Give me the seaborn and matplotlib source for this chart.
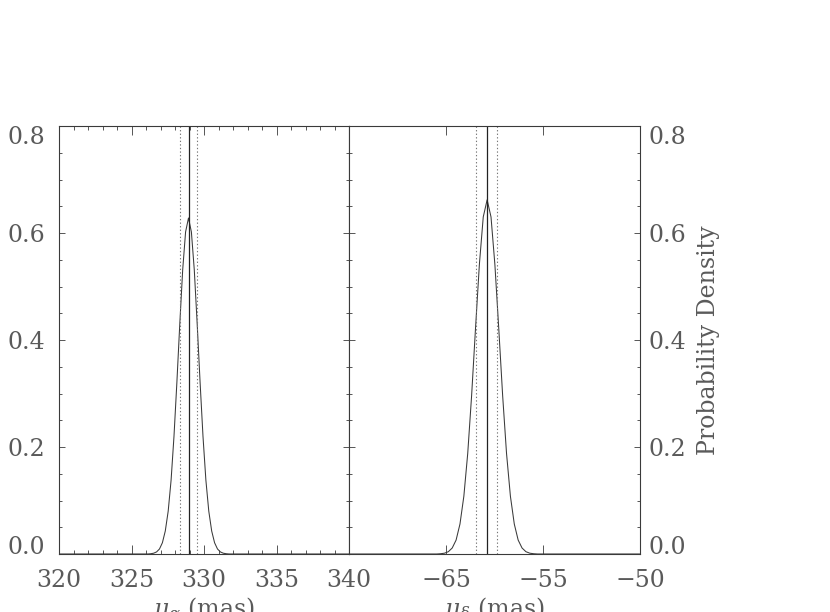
import numpy as np
import pandas as pd
import seaborn as sns
import matplotlib.pyplot as plt
from matplotlib.ticker import MultipleLocator

# values
mua_x = [320.0, 326.13, 326.33, 326.53, 326.73, 326.93, 327.13, 327.33, 327.53,
         327.73, 327.93, 328.13, 328.33, 328.53, 328.73, 328.93, 329.13, 329.33,
         329.53, 329.73, 329.93, 330.13, 330.33, 330.53, 330.73, 330.93, 331.13,
         331.33, 331.53, 331.73, 340.0]
mua_pdf = [0.0, 0.0, 0.0005, 0.0015, 0.0039, 0.0094, 0.021, 0.043, 0.080,
           0.138, 0.220, 0.321, 0.430, 0.531, 0.602, 0.628, 0.602, 0.531,
           0.430, 0.321, 0.220, 0.138, 0.080, 0.043, 0.021, 0.0094, 0.0039,
           0.0015, 0.0005, 0.0, 0.0]
mua_best = 328.95
mua_lo, mua_hi = 328.37, 329.54

mud_x = [-65.0, -60.48, -60.28, -60.08, -59.88, -59.68, -59.48, -59.28, -59.08,
         -58.88, -58.68, -58.48, -58.28, -58.08, -57.88, -57.68, -57.48, -57.28,
         -57.08, -56.88, -56.68, -56.48, -56.28, -56.08, -55.88, -55.68, -55.48,
         -55.28, -50.0]
mud_pdf = [0.0, 0.0, 0.0005, 0.0015, 0.0043, 0.0112, 0.026, 0.056, 0.108,
           0.188, 0.296, 0.421, 0.541, 0.630, 0.662, 0.630, 0.541, 0.421,
           0.296, 0.188, 0.108, 0.056, 0.026, 0.0112, 0.0043, 0.0015, 0.0005,
           0.0, 0.0]
mud_best = -57.89
mud_lo, mud_hi = -58.46, -57.36

left_ticks = [320, 325, 330, 335, 340]
left_labels = ['320', '325', '330', '335', '340']
right_ticks = [-65, -60, -55, -50]
right_labels = ['', '\u221265', '\u221255', '\u221250']
y_ticks = [0.0, 0.2, 0.4, 0.6, 0.8]
y_labels = ['0.0', '0.2', '0.4', '0.6', '0.8']

sns.set_style('white')
plt.rcParams['font.family'] = ['DejaVu Serif']
plt.rcParams['mathtext.fontset'] = 'dejavuserif'

ink = '#3a3a3a'
txt = '#5a5a5a'
fs = 17

fig = plt.figure(figsize=(8.3, 6.12), dpi=100)
ax1 = fig.add_axes([59 / 830, 58 / 612, 290 / 830, 428 / 612])
ax2 = fig.add_axes([349 / 830, 58 / 612, 291 / 830, 428 / 612])

panels = [
    (ax1, mua_x, mua_pdf, mua_best, mua_lo, mua_hi, (320, 340)),
    (ax2, mud_x, mud_pdf, mud_best, mud_lo, mud_hi, (-65, -50)),
]
for ax, xs, ys, best, lo, hi, xlim in panels:
    df = pd.DataFrame({'x': xs, 'pdf': ys})
    sns.lineplot(data=df, x='x', y='pdf', ax=ax, color=ink, lw=0.75,
                 sort=False, estimator=None)
    ax.axvline(best, color='#222222', lw=0.9)
    ax.axvline(lo, color='#777777', lw=0.8, ls=(0, (1.2, 2)))
    ax.axvline(hi, color='#777777', lw=0.8, ls=(0, (1.2, 2)))
    ax.set_xlim(*xlim)
    ax.set_ylim(0, 0.8)
    for s in ax.spines.values():
        s.set_color(ink)
        s.set_linewidth(0.8)
    ax.set_yticks(y_ticks)
    ax.yaxis.set_minor_locator(MultipleLocator(0.05))
    ax.tick_params(axis='x', which='major', direction='in', length=6.5,
                   width=0.6, color=ink, top=True, bottom=True,
                   labelsize=fs, labelcolor=txt, pad=11)
    ax.tick_params(axis='x', which='minor', direction='in', length=3.1,
                   width=0.6, color=ink, top=True, bottom=True)
    ax.tick_params(axis='y', which='major', direction='in', length=4.3,
                   width=0.6, color=ink, left=True, right=True,
                   labelsize=fs, labelcolor=txt)
    ax.tick_params(axis='y', which='minor', direction='in', length=2.2,
                   width=0.6, color=ink, left=True, right=True)

# left panel
ax1.set_xticks(left_ticks)
ax1.set_xticklabels(left_labels)
ax1.xaxis.set_minor_locator(MultipleLocator(1))
ax1.set_yticklabels(y_labels)
ax1.tick_params(axis='y', labelleft=True, labelright=False, pad=10)
ax1.set_xlabel(r'$\mu_\alpha$ (mas)', fontsize=fs, color=txt, labelpad=2)
ax1.set_ylabel('')

# right panel
ax2.set_xticks(right_ticks)
ax2.set_xticklabels(right_labels)
ax2.set_yticklabels(y_labels)
ax2.tick_params(axis='y', labelleft=False, labelright=True, pad=6)
ax2.set_xlabel(r'$\mu_\delta$ (mas)', fontsize=fs, color=txt, labelpad=2)
ax2.yaxis.set_label_position('right')
ax2.set_ylabel('Probability Density', fontsize=fs, color=txt, labelpad=8)

# end labels sit inside the frame like in the original
for ax in (ax1, ax2):
    lbls = ax.get_yticklabels()
    lbls[0].set_va('baseline')
    lbls[-1].set_va('top')

fig.savefig('out.png', dpi=100)
